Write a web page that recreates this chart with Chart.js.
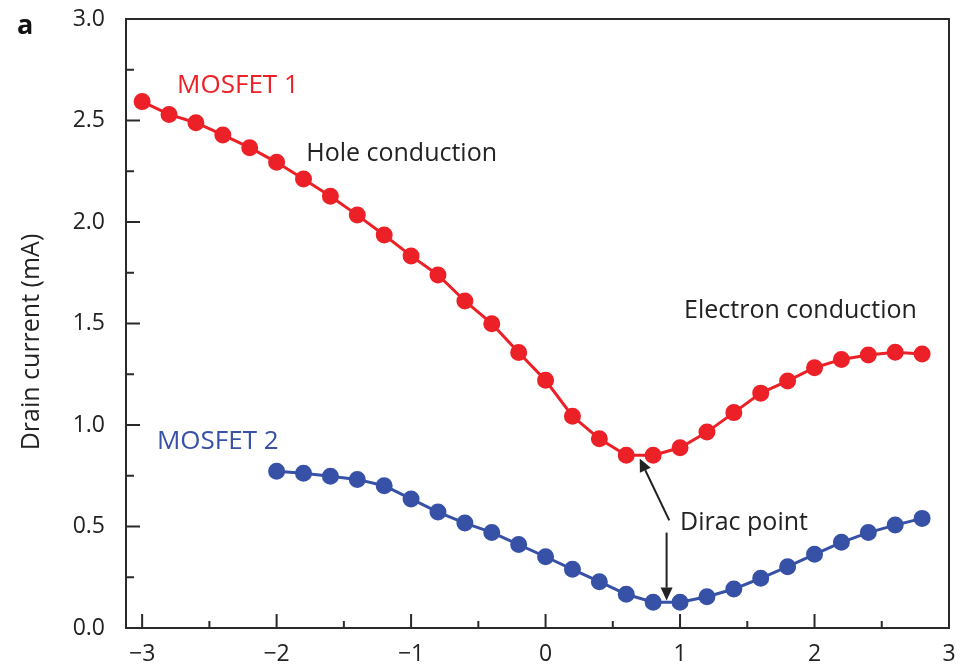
<!DOCTYPE html>
<html>
<head>
<meta charset="utf-8">
<script src="https://cdn.jsdelivr.net/npm/chart.js@4.4.1/dist/chart.umd.min.js"></script>
<style>
  html, body { margin: 0; padding: 0; background: #fff; }
  #wrap { width: 966px; height: 669px; }
</style>
</head>
<body>
<div id="wrap"><canvas id="myChart" width="966" height="669"></canvas></div>
<script>
// gate voltage (V) and drain current (mA)
const gateV1 = [-3.0, -2.8, -2.6, -2.4, -2.2, -2.0, -1.8, -1.6, -1.4, -1.2, -1.0, -0.8, -0.6, -0.4, -0.2,
                0.0, 0.2, 0.4, 0.6, 0.8, 1.0, 1.2, 1.4, 1.6, 1.8, 2.0, 2.2, 2.4, 2.6, 2.8];
const drain1 = [2.593, 2.53, 2.489, 2.429, 2.366, 2.294, 2.212, 2.127, 2.034, 1.936, 1.833, 1.739, 1.611, 1.499, 1.357,
                1.22, 1.043, 0.932, 0.851, 0.851, 0.888, 0.965, 1.061, 1.157, 1.217, 1.282, 1.323, 1.345, 1.358, 1.35];

const gateV2 = [-2.0, -1.8, -1.6, -1.4, -1.2, -1.0, -0.8, -0.6, -0.4, -0.2,
                0.0, 0.2, 0.4, 0.6, 0.8, 1.0, 1.2, 1.4, 1.6, 1.8, 2.0, 2.2, 2.4, 2.6, 2.8];
const drain2 = [0.772, 0.762, 0.748, 0.732, 0.701, 0.636, 0.571, 0.517, 0.471, 0.411,
                0.351, 0.289, 0.228, 0.166, 0.127, 0.127, 0.154, 0.192, 0.245, 0.302, 0.363, 0.422, 0.47, 0.507, 0.54];

// tick marks
const xTicks = [-3, -2, -1, 0, 1, 2, 3];
const xMinor = [-2.5, -1.5, -0.5, 0.5, 1.5, 2.5];
const yTicks = [0, 0.5, 1.0, 1.5, 2.0, 2.5, 3.0];
const yMinor = [0.25, 0.75, 1.25, 1.75, 2.25, 2.75];

// text notes (data coordinates)
const notes = [
    { text: 'MOSFET 1', x: -2.74, y: 2.67, color: '#ec2127', size: 26 },
    { text: 'Hole conduction', x: -1.78, y: 2.335, color: '#222', size: 25 },
    { text: 'Electron conduction', x: 1.03, y: 1.56, color: '#222', size: 25 },
    { text: 'MOSFET 2', x: -2.89, y: 0.916, color: '#3651a5', size: 26 },
    { text: 'Dirac point', x: 1.0, y: 0.52, color: '#222', size: 25 }
];
const arrows = [
    { from: [0.92, 0.53], to: [0.70, 0.835] },
    { from: [0.90, 0.47], to: [0.90, 0.135] }
];

const FONT = "'Open Sans', 'DejaVu Sans', sans-serif";

// box, inward ticks, axis title, notes and arrows
const extras = {
    id: 'extras',
    afterDraw(chart) {
        const ctx = chart.ctx;
        const xs = chart.scales.x, ys = chart.scales.y;
        const a = chart.chartArea;
        ctx.save();
        ctx.strokeStyle = '#2a2a2a';
        ctx.lineWidth = 2;
        ctx.strokeRect(a.left, a.top, a.right - a.left, a.bottom - a.top);

        ctx.beginPath();
        xTicks.forEach(v => { const p = xs.getPixelForValue(v); ctx.moveTo(p, a.bottom); ctx.lineTo(p, a.bottom - 14); });
        xMinor.forEach(v => { const p = xs.getPixelForValue(v); ctx.moveTo(p, a.bottom); ctx.lineTo(p, a.bottom - 7); });
        yTicks.forEach(v => { const p = ys.getPixelForValue(v); ctx.moveTo(a.left, p); ctx.lineTo(a.left + 14, p); });
        yMinor.forEach(v => { const p = ys.getPixelForValue(v); ctx.moveTo(a.left, p); ctx.lineTo(a.left + 8, p); });
        ctx.stroke();

        // y axis title, sits a bit below the axis middle in the original
        ctx.save();
        ctx.translate(32, 342);
        ctx.rotate(-Math.PI / 2);
        ctx.font = '25px ' + FONT;
        ctx.fillStyle = '#222';
        ctx.textAlign = 'center';
        ctx.textBaseline = 'middle';
        ctx.fillText('Drain current (mA)', 0, 0);
        ctx.restore();

        ctx.textBaseline = 'middle';
        ctx.textAlign = 'left';
        notes.forEach(n => {
            ctx.font = n.size + 'px ' + FONT;
            ctx.fillStyle = n.color;
            ctx.fillText(n.text, xs.getPixelForValue(n.x), ys.getPixelForValue(n.y));
        });

        ctx.strokeStyle = '#222';
        ctx.fillStyle = '#222';
        ctx.lineWidth = 2;
        arrows.forEach(ar => {
            const x1 = xs.getPixelForValue(ar.from[0]), y1 = ys.getPixelForValue(ar.from[1]);
            const x2 = xs.getPixelForValue(ar.to[0]), y2 = ys.getPixelForValue(ar.to[1]);
            const ang = Math.atan2(y2 - y1, x2 - x1);
            const hl = 13, hw = 6;
            const bx = x2 - hl * Math.cos(ang), by = y2 - hl * Math.sin(ang);
            ctx.beginPath();
            ctx.moveTo(x1, y1);
            ctx.lineTo(bx, by);
            ctx.stroke();
            ctx.beginPath();
            ctx.moveTo(x2, y2);
            ctx.lineTo(bx + hw * Math.sin(ang), by - hw * Math.cos(ang));
            ctx.lineTo(bx - hw * Math.sin(ang), by + hw * Math.cos(ang));
            ctx.closePath();
            ctx.fill();
        });

        // panel letter
        ctx.font = "bold 27px " + FONT;
        ctx.fillStyle = '#111';
        ctx.textBaseline = 'alphabetic';
        ctx.fillText('a', 17, 34);
        ctx.restore();
    }
};

const canvas = document.getElementById('myChart');
new Chart(canvas, {
    type: 'line',
    data: {
        datasets: [{
            label: 'MOSFET 1',
            data: gateV1.map((x, i) => ({ x: x, y: drain1[i] })),
            borderColor: '#ec2127',
            backgroundColor: '#ec2127',
            borderWidth: 3,
            pointRadius: 7,
            pointHoverRadius: 7,
            tension: 0
        },
        {
            label: 'MOSFET 2',
            data: gateV2.map((x, i) => ({ x: x, y: drain2[i] })),
            borderColor: '#3651a5',
            backgroundColor: '#3651a5',
            borderWidth: 3,
            pointRadius: 7,
            pointHoverRadius: 7,
            tension: 0
        }]
    },
    options: {
        responsive: false,
        animation: false,
        devicePixelRatio: 1,
        layout: { padding: { top: 19, right: 17, left: 0, bottom: 0 } },
        plugins: { legend: { display: false }, tooltip: { enabled: false } },
        scales: {
            x: {
                type: 'linear',
                min: -3.12,
                max: 3,
                afterBuildTicks: axis => { axis.ticks = xTicks.map(v => ({ value: v })); },
                afterFit: axis => { axis.height = 41; axis.paddingLeft = 0; axis.paddingRight = 0; },
                grid: { display: false },
                border: { display: false },
                ticks: {
                    color: '#222',
                    font: { family: FONT, size: 23 },
                    padding: 5,
                    maxRotation: 0,
                    callback: v => v < 0 ? '\u2212' + Math.abs(v) : String(v)
                }
            },
            y: {
                min: 0,
                max: 3,
                afterBuildTicks: axis => { axis.ticks = yTicks.map(v => ({ value: v })); },
                afterFit: axis => { axis.width = 126; axis.paddingTop = 0; axis.paddingBottom = 0; },
                grid: { display: false },
                border: { display: false },
                ticks: {
                    color: '#222',
                    font: { family: FONT, size: 23 },
                    padding: 13,
                    callback: v => v.toFixed(1)
                }
            }
        }
    },
    plugins: [extras]
});
</script>
</body>
</html>
